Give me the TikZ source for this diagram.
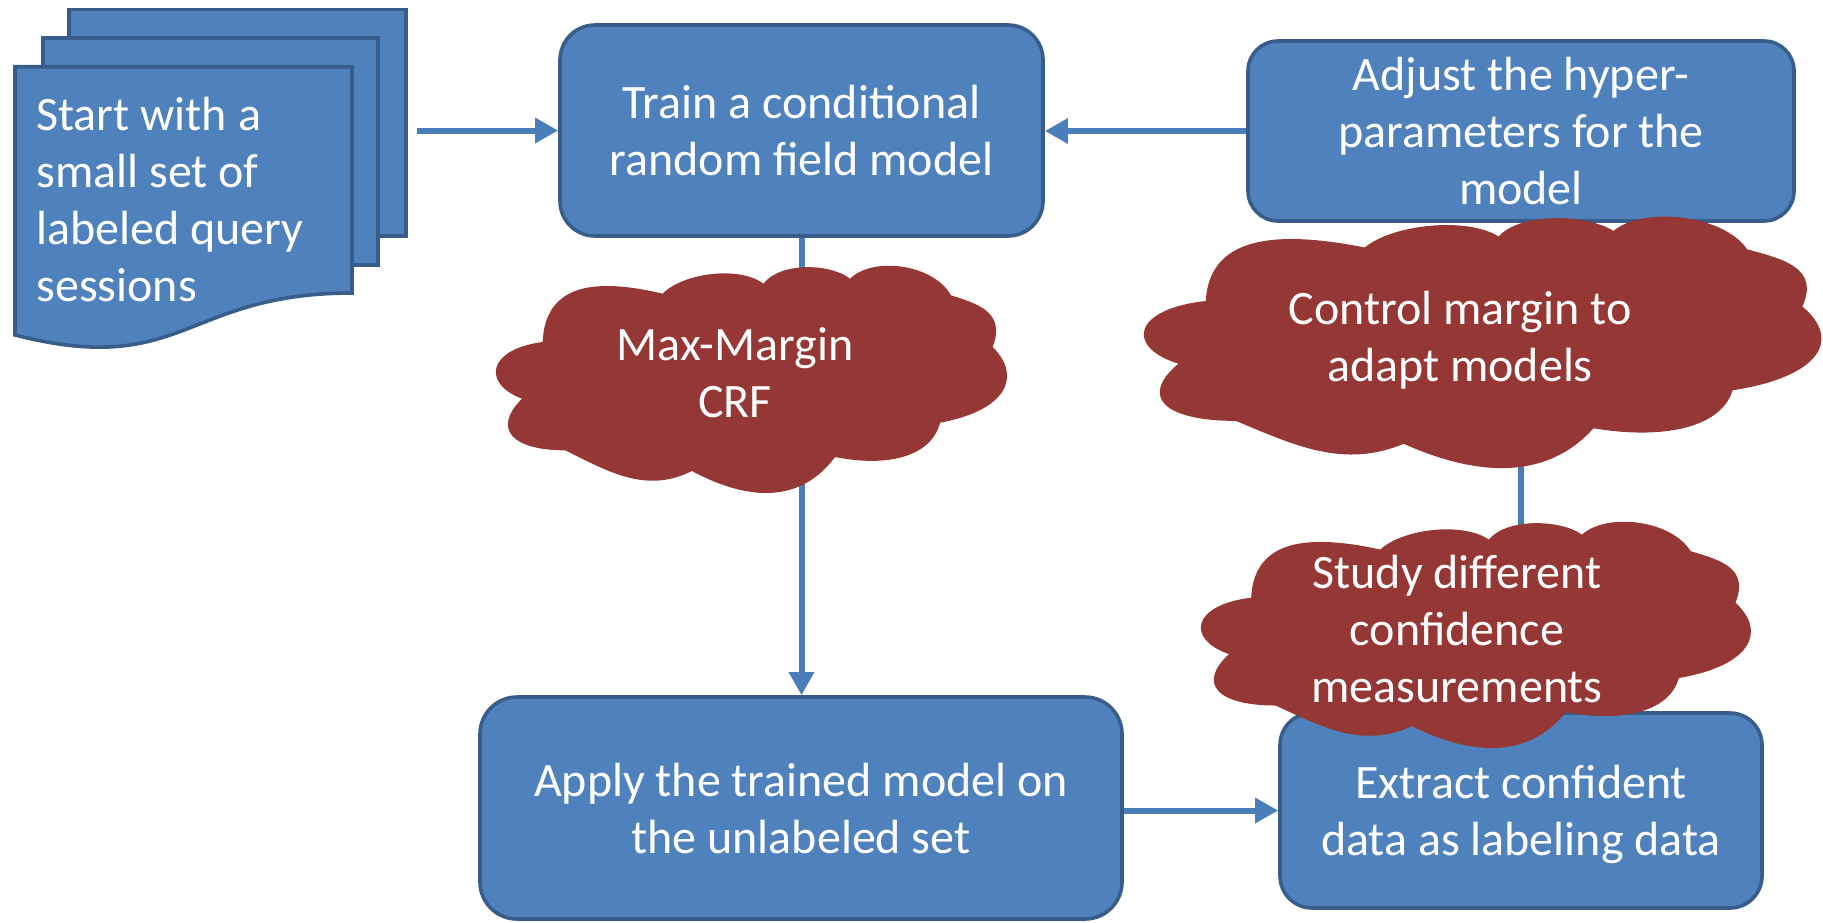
\documentclass[tikz,border=0pt]{standalone}
\usepackage{fontspec}
\setmainfont{Carlito}
\usetikzlibrary{arrows.meta}
\definecolor{boxblue}{RGB}{79,129,189}
\definecolor{boxedge}{RGB}{56,93,138}
\definecolor{linkblue}{RGB}{74,126,187}
\definecolor{cloudred}{RGB}{149,55,53}
\pgfdeclarelayer{bg}
\pgfsetlayers{bg,main}
\tikzset{
  txt/.style={text=white, inner sep=0pt, font=\fontsize{24}{28.5}\selectfont},
  stepbox/.style={txt, draw=boxedge, fill=boxblue, line width=1.8pt, align=center},
  page/.style={draw=boxedge, fill=boxblue, line width=1.8pt},
  link/.style={draw=linkblue, line width=3pt},
  arr/.style={link, -{Triangle[length=11.5pt,width=12pt]}},
  cloudtext/.style={txt, align=center},
  officecloud/.pic={
    \fill[cloudred] (0.0909,0.3333)
      .. controls (0.0961,0.0667) and (0.1987,0.0504) .. (0.3247,0.1185)
      .. controls (0.3656,0.0252) and (0.4747,-0.0059) .. (0.5214,0.0741)
      .. controls (0.5526,-0.0207) and (0.6487,-0.0193) .. (0.6903,0.0519)
      .. controls (0.7334,-0.0467) and (0.8513,-0.0163) .. (0.8870,0.1259)
      .. controls (0.9425,0.1659) and (0.9932,0.2024) .. (0.9682,0.3556)
      .. controls (1.0273,0.4904) and (0.9929,0.6385) .. (0.8656,0.6919)
      .. controls (0.8477,0.8504) and (0.7565,0.8889) .. (0.6610,0.8444)
      .. controls (0.5948,1.0459) and (0.4961,1.0459) .. (0.3818,0.9067)
      .. controls (0.2942,1.0067) and (0.2227,0.9148) .. (0.1351,0.8148)
      .. controls (0.0312,0.8148) and (-0.0084,0.7200) .. (0.0506,0.5852)
      .. controls (-0.0273,0.5185) and (-0.0175,0.3659) .. (0.0909,0.3333) -- cycle;
  }
}
\begin{document}
\begin{tikzpicture}[x=0.5pt,y=-0.5pt]
\useasboundingbox (0,0) rectangle (1823,922);
% multidocument
\draw[page] (69,9.3) rectangle (406,236);
\draw[page] (43,37.7) rectangle (378,265);
\draw[page] (15,66.7) -- (352,66.7) -- (352,293) .. controls (184,293) and (184,378) .. (15,335) -- cycle;
\node[txt, anchor=west, align=left] (doc) at (36,200) {Start with a\\small set of\\labeled query\\sessions};
% boxes
\node[stepbox, minimum width=241.5pt, minimum height=105.5pt, rounded corners=17.5pt] (train) at (801.5,130.5) {Train a conditional\\random field model};
\node[stepbox, minimum width=273pt, minimum height=90pt, rounded corners=15pt] (adjust) at (1521,131) {Adjust the hyper-\\parameters for the\\model};
\node[stepbox, minimum width=321pt, minimum height=111pt, rounded corners=18.5pt] (apply) at (801,808) {Apply the trained model on\\the unlabeled set};
\node[stepbox, minimum width=241pt, minimum height=97.5pt, rounded corners=16pt] (extract) at (1521,810.5) {Extract confident\\\smash{data as labeling data}};
% connectors
\coordinate (docout) at (417,130.5);
\begin{pgfonlayer}{bg}
\draw[arr] (docout) -- (train.west);
\draw[arr] (adjust.west) -- (adjust.west -| train.east);
\draw[arr] (train.south) -- (train.south |- apply.north);
\draw[arr] (apply.east |- extract.west) -- (extract.west);
\draw[arr] (extract.north) -- (adjust.south);
\end{pgfonlayer}
% clouds
\pic[xscale=513, yscale=225] at (496,267) {officecloud};
\pic[xscale=680, yscale=249] at (1144,218) {officecloud};
\pic[xscale=552, yscale=224] at (1201,523) {officecloud};
\node[cloudtext] (crf) at (735,373) {Max-Margin\\CRF};
\node[cloudtext] (margin) at (1460,340.5) {Control margin to\\adapt models};
\node[cloudtext] (study) at (1457,628.5) {Study different\\confidence\\measurements};
\end{tikzpicture}
\end{document}
